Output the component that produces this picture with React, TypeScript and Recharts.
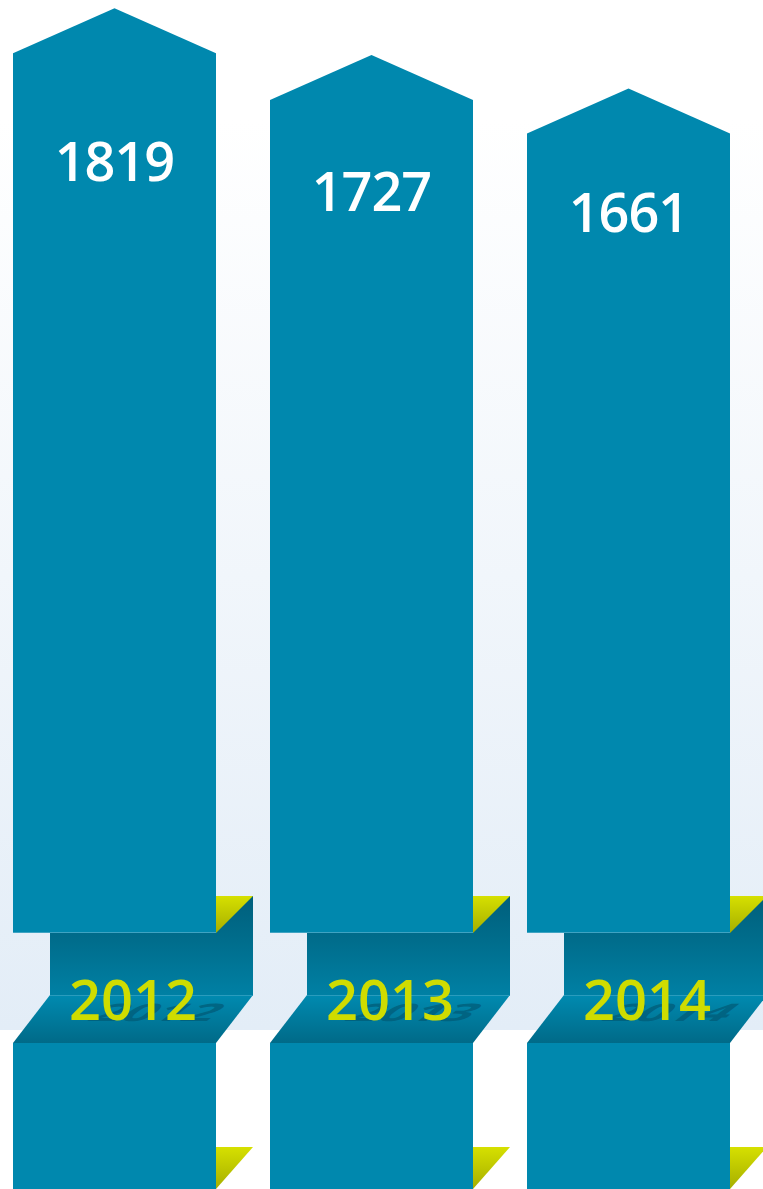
import { BarChart, Bar, XAxis, YAxis } from 'recharts'

const years = ['2012', '2013', '2014']
const counts = [1819, 1727, 1661]

const data = years.map((year, i) => ({ year, count: counts[i] }))

const BLUE = '#0088ae'
const FONT = '"Open Sans", "DejaVu Sans", sans-serif'

// arrow bar + folded ribbon underneath with the year on it
const ArrowBar = (props: any) => {
  const { x, y, width, height, payload } = props
  const r = x + width
  const b = y + height
  const cx = x + width / 2
  const tip = 45
  const f = 37
  // value label sits lower on the shorter arrows
  const labelY = y + 173 + 0.366 * (height - 925)
  return (
    <g>
      <rect x={x + f} y={b - f} width={width} height={f + 62} fill="url(#foldBack)" />
      <polygon points={`${r},${b - f} ${r + f},${b - f} ${r},${b}`} fill="url(#lime)" />
      <polygon
        points={`${x},${y + tip} ${cx},${y} ${r},${y + tip} ${r},${b} ${x},${b}`}
        fill={BLUE}
      />
      <line x1={x} x2={r} y1={b - 0.5} y2={b - 0.5} stroke="#3fa3c2" strokeWidth={1} />
      <polygon
        points={`${x + f},${b + 62} ${r + f},${b + 62} ${r},${b + 110} ${x},${b + 110}`}
        fill="url(#foldFront)"
      />
      <line x1={x + f} x2={r + f} y1={b + 62.5} y2={b + 62.5} stroke="#2a9cbd" strokeWidth={1} />
      <rect x={x} y={b + 110} width={width} height={160} fill={BLUE} />
      <polygon points={`${r},${b + 214} ${r + f},${b + 214} ${r},${b + 256}`} fill="url(#lime)" />
      <g transform={`translate(${x + 134}, ${b + 88}) scale(1, 0.45) skewX(-30)`}>
        <text
          x={0}
          y={0}
          textAnchor="middle"
          fontFamily={FONT}
          fontSize={54}
          fontWeight={700}
          fill="#005a76"
          opacity={0.7}
        >
          {payload.year}
        </text>
      </g>
      <text
        x={x + 120}
        y={b + 87}
        textAnchor="middle"
        fontFamily={FONT}
        fontSize={56}
        fontWeight={600}
        fill="#cfdc00"
      >
        {payload.year}
      </text>
      <text
        x={cx}
        y={labelY}
        textAnchor="middle"
        fontFamily={FONT}
        fontSize={54}
        fontWeight={600}
        letterSpacing={-1}
        fill="#ffffff"
      >
        {payload.count}
      </text>
    </g>
  )
}

export default function App() {
  return (
    <div
      style={{
        position: 'absolute',
        left: 0,
        top: 0,
        width: 763,
        height: 1189,
        overflow: 'hidden',
        background: 'linear-gradient(to bottom, #ffffff 0px, #ffffff 120px, #e3edf7 1030px, #ffffff 1030px)',
      }}
    >
      <BarChart
        width={763}
        height={1189}
        data={data}
        margin={{ top: 0, right: 6, bottom: 256, left: -14 }}
      >
        <defs>
          <linearGradient id="lime" x1="0" y1="0" x2="0" y2="1">
            <stop offset="0%" stopColor="#d6e000" />
            <stop offset="100%" stopColor="#a6ae00" />
          </linearGradient>
          <linearGradient id="foldBack" x1="0" y1="0" x2="0" y2="1">
            <stop offset="0%" stopColor="#005f7c" />
            <stop offset="45%" stopColor="#006d8c" />
            <stop offset="100%" stopColor="#0080a4" />
          </linearGradient>
          <linearGradient id="foldFront" x1="0" y1="0" x2="0" y2="1">
            <stop offset="0%" stopColor="#008ab0" />
            <stop offset="100%" stopColor="#006a88" />
          </linearGradient>
        </defs>
        <XAxis dataKey="year" hide />
        <YAxis hide domain={[0, 1835]} />
        <Bar dataKey="count" barSize={203} shape={<ArrowBar />} isAnimationActive={false} />
      </BarChart>
    </div>
  )
}
